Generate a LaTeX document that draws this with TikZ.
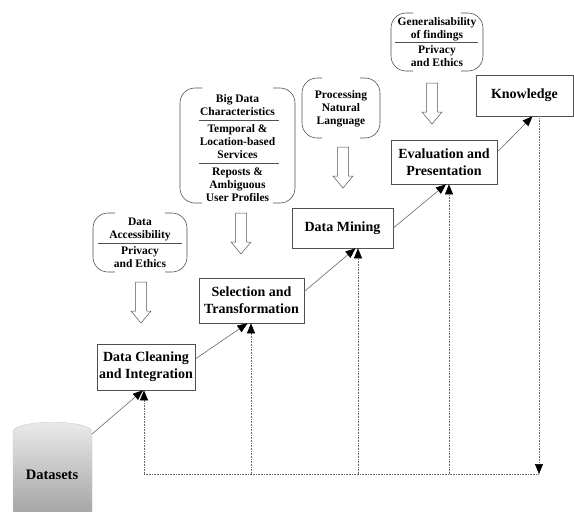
\documentclass[tikz,border=0pt]{standalone}
\usepackage{fontspec}
\setmainfont{Liberation Serif}
\usepackage{tikz}
\usetikzlibrary{arrows.meta,positioning,calc}
\definecolor{framegray}{RGB}{80,80,80}
\definecolor{linegray}{RGB}{105,105,105}

\begin{document}
\begin{tikzpicture}[x=1pt,y=-1pt,
  stage/.style={draw=framegray,fill=white,line width=0.6pt,inner sep=0pt,
                align=center,font=\fontsize{14}{17}\selectfont\bfseries},
  note/.style={align=center,inner sep=0pt,
               font=\fontsize{11.5}{13}\selectfont\bfseries},
  paren/.style={draw=framegray,line width=0.6pt,rounded corners=15pt},
  sep/.style={draw=framegray,line width=0.6pt},
  flow/.style={draw=linegray,line width=0.6pt,
               -{Triangle[length=10pt,width=8pt,color=black]}},
  back/.style={draw=linegray,densely dotted,line width=0.6pt},
  backtip/.style={back,-{Triangle[length=10pt,width=8pt,color=black]}},
  pics/hollow/.style={code={
    \draw[draw=framegray,line width=0.5pt,fill=white]
      (-5.5,0) -- (5.5,0) -- (5.5,29) -- (10,29) -- (0,41)
      -- (-10,29) -- (-5.5,29) -- cycle;}}]
\useasboundingbox (0,0) rectangle (574,512);

% datasets
\shade[top color=gray!15,bottom color=gray!70,draw=gray!40,line width=0.4pt]
  (13,512) -- (13,432) .. controls (13,419) and (92,419) .. (92,432)
  -- (92,512) -- cycle;
\node[font=\fontsize{14.5}{17}\selectfont\bfseries](data) at (52,475) {Datasets};
\coordinate (rim) at (92,434);

% stages
\node[stage,minimum width=98pt,minimum height=46pt](dc)   at (146,367)   {Data Cleaning\\and Integration};
\node[stage,minimum width=105pt,minimum height=45pt](sel) at (251.5,300.5) {Selection and\\Transformation};
\node[stage,minimum width=101pt,minimum height=40pt](dm)  at (342.5,228) {Data Mining};
\node[stage,minimum width=106pt,minimum height=44pt](eval) at (444,162)  {Evaluation and\\Presentation};
\node[stage,minimum width=97pt,minimum height=41pt](know) at (524.5,95.5) {Knowledge};

\draw[flow](rim)--([xshift=-3pt]dc.south);
\draw[flow]([yshift=8pt]dc.east)--([xshift=-4pt]sel.south);
\draw[flow]([yshift=9pt]sel.east)--([xshift=13pt]dm.south);
\draw[flow](dm.east)--([xshift=2pt]eval.south);
\draw[flow]([yshift=10pt]eval.east)--([xshift=8pt]know.south);

% feedback
\coordinate (b1) at (144,474);
\coordinate (b2) at (251,474);
\coordinate (b3) at (358,474);
\coordinate (b4) at (449,474);
\coordinate (b5) at (539,474);
\draw[back](b1)--(b5);
\draw[backtip]([xshift=14.5pt]know.south)--(b5);
\draw[backtip](b1)--([xshift=-2pt]dc.south);
\draw[backtip](b2)--([xshift=-0.5pt]sel.south);
\draw[backtip](b3)--([xshift=15.5pt]dm.south);
\draw[backtip](b4)--([xshift=5pt]eval.south);

% issues
\draw[paren](115,213)--(93,213)--(93,272)--(115,272);
\draw[paren](165,213)--(187,213)--(187,272)--(165,272);
\node[note](acc)  at (140,229)   {Data\\Accessibility};
\draw[sep](98,243)--(182,243);
\node[note](priv) at (140,257)   {Privacy\\and Ethics};
\pic at (141,282) {hollow};

\draw[paren](202,88)--(180,88)--(180,203)--(202,203);
\draw[paren](273,88)--(295,88)--(295,203)--(273,203);
\node[note](big)  at (237.5,105.5) {Big Data\\Characteristics};
\draw[sep](199,120)--(279,120);
\node[note](temp) at (237.5,142)   {Temporal \&\\Location-based\\Services};
\draw[sep](199,163)--(279,163);
\node[note](rep)  at (237.5,184.5) {Reposts \&\\Ambiguous\\User Profiles};
\pic at (241,213) {hollow};

\draw[paren](322,78)--(302,78)--(302,138)--(322,138);
\draw[paren](360,78)--(380,78)--(380,138)--(360,138);
\node[note](nlp)  at (341,109) {Processing\\Natural\\Language};
\pic at (343,147) {hollow};

\draw[paren](413,13)--(391,13)--(391,71)--(413,71);
\draw[paren](461,13)--(483,13)--(483,71)--(461,71);
\node[note](gen)  at (437,29)   {Generalisability\\of findings};
\draw[sep](395,42)--(478,42);
\node[note](eth)  at (437,56.5) {Privacy\\and Ethics};
\pic at (432,83) {hollow};
\end{tikzpicture}
\end{document}
